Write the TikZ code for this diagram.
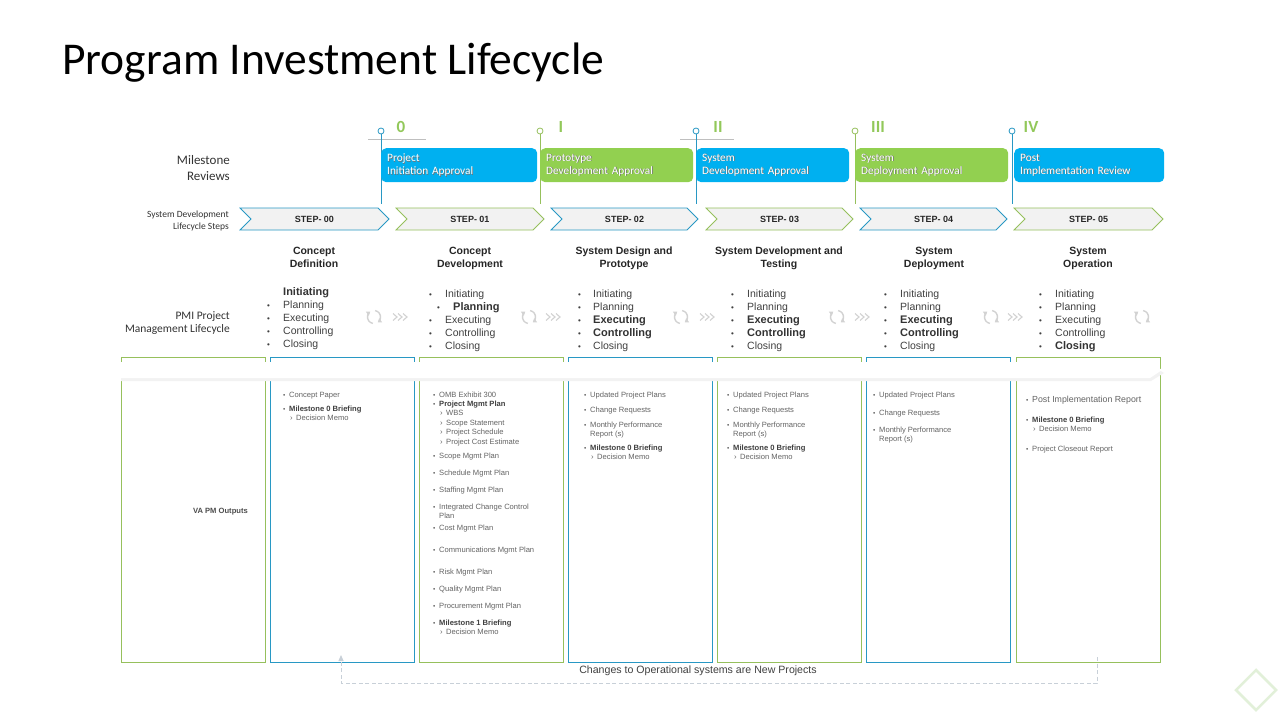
\documentclass[tikz,border=0pt]{standalone}
\usepackage{fontspec}
\setmainfont{Liberation Sans}
\newfontfamily\calib{Carlito}
\usetikzlibrary{arrows.meta,calc}
\definecolor{mblue}{RGB}{0,176,240}
\definecolor{mgreen}{RGB}{146,208,80}
\definecolor{lblue}{RGB}{40,152,196}
\definecolor{lgreen}{RGB}{150,192,92}
\definecolor{txt}{RGB}{64,64,64}
\definecolor{otxt}{RGB}{100,100,100}
\definecolor{chfill}{RGB}{242,242,242}
\definecolor{iconc}{RGB}{210,210,210}
\definecolor{dashc}{RGB}{200,208,216}
\definecolor{numg}{RGB}{146,200,90}
\definecolor{diac}{RGB}{226,240,217}
\newcommand\pbul{\makebox[16pt][l]{\fontsize{8}{8}\selectfont •}}
\newcommand\pbf[1]{{\fontsize{11}{13}\selectfont\bfseries\color{black!80}#1}}
\newcommand\obul{\makebox[6pt][l]{\fontsize{6.5}{6.5}\selectfont •}}
\newcommand\osub{\hspace{7pt}\makebox[6pt][l]{›}}
\newcommand\oind{\hspace{6pt}}
\newcommand\shd[1]{\makebox[0pt][l]{\hspace{0.7pt}\raisebox{-0.7pt}{\color{black!55}#1}}#1}
\begin{document}
\begin{tikzpicture}[x=1pt,y=-1pt,
  rowlab/.style={inner sep=0, text=black!80},
  phase/.style={inner sep=0, anchor=base, font=\fontsize{10.5}{13}\selectfont\bfseries, text=black!85},
  pmi/.style={inner sep=0, anchor=base west, font=\fontsize{10.5}{13}\selectfont, text=txt},
  outl/.style={inner sep=0, anchor=base west, font=\fontsize{7.6}{9.4}\selectfont, text=otxt},
  mbox/.style={rounded corners=5pt, anchor=north west, minimum height=34pt, inner xsep=6pt, align=left, text=white, font=\calib\fontsize{11.3}{13}\selectfont},
  steptxt/.style={inner sep=0, font=\bfseries\fontsize{9}{10}\selectfont, text=black!85},
  numlab/.style={inner sep=0, text=numg, font=\calib\bfseries\fontsize{17}{18}\selectfont},
  mcirc/.style={circle, fill=white, inner sep=0, minimum size=6pt, line width=0.8pt},
  colbox/.style={anchor=north west, minimum width=144pt, minimum height=305pt, inner sep=0, line width=0.9pt},
  iconline/.style={draw=iconc, line width=1.4pt},
  icontip/.style={-{Triangle[length=3.6pt,width=5pt]}},
  dashln/.style={draw=dashc, line width=0.8pt, dash pattern=on 4pt off 2.5pt},
]
\useasboundingbox (0,0) rectangle (1280,720);
\fill[white] (0,0) rectangle (1280,720);

% title
\node[anchor=base west, inner sep=0, font=\calib\fontsize{45.5}{50}\selectfont, text=black] (title) at (62,74) {Program Investment Lifecycle};

% row labels
\node[rowlab, anchor=base east, font=\calib\fontsize{13}{16}\selectfont] (lab1) at (230,164) {\begin{tabular}[t]{@{}r@{}}Milestone\\Reviews\end{tabular}};
\node[rowlab, anchor=base east, font=\calib\fontsize{9.5}{12}\selectfont] (lab2) at (229,217) {\begin{tabular}[t]{@{}r@{}}System Development\\Lifecycle Steps\end{tabular}};
\node[rowlab, anchor=base east, font=\calib\fontsize{11.5}{13}\selectfont] (lab3) at (230,319) {\begin{tabular}[t]{@{}r@{}}PMI Project\\Management Lifecycle\end{tabular}};
\node[rowlab, anchor=base east, font=\bfseries\fontsize{7.6}{9}\selectfont, text=black!70] (lab4) at (248,513) {VA PM Outputs};

% short grey rules
\draw[black!25, line width=0.6pt] (368,139) -- (426,139);
\draw[black!25, line width=0.6pt] (680,139) -- (734,139);

% milestone lines
\foreach \i/\x/\c in {0/381/lblue, 1/540/lgreen, 2/696/lblue, 3/855/lgreen, 4/1012/lblue} {
  \node[mcirc, draw=\c] (mc\i) at (\x,131) {};
  \coordinate (mb\i) at (\x,204);
  \draw[\c, line width=0.9pt] (mc\i) -- (mb\i);
}
\node[numlab] (n0) at (401,127) {0};
\node[numlab] (n1) at (561,127) {I};
\node[numlab] (n2) at (718,127) {II};
\node[numlab] (n3) at (878,127) {III};
\node[numlab] (n4) at (1031,127) {IV};

% milestone boxes
\node[mbox, fill=mblue, minimum width=156pt, text width=144pt] (ms0) at (381,148) {\shd{Project}\\\shd{Initiation Approval}};
\node[mbox, fill=mgreen, minimum width=153pt, text width=141pt] (ms1) at (540,148) {\shd{Prototype}\\\shd{Development Approval}};
\node[mbox, fill=mblue, minimum width=153pt, text width=141pt] (ms2) at (696,148) {\shd{System}\\\shd{Development Approval}};
\node[mbox, fill=mgreen, minimum width=153pt, text width=141pt] (ms3) at (855,148) {\shd{System}\\\shd{Deployment Approval}};
\node[mbox, fill=mblue, minimum width=150pt, text width=138pt] (ms4) at (1014,148) {\shd{Post}\\\shd{Implementation Review}};

% step chevrons
\foreach \i/\l/\r/\c in {0/240/389/lblue, 1/396/544/lgreen, 2/551/698/lblue, 3/706/853/lgreen, 4/860/1007/lblue, 5/1014/1163/lgreen} {
  \filldraw[fill=chfill, draw=\c, line width=0.8pt] (\l,208) -- ({\r-11},208) -- (\r,219) -- ({\r-11},230) -- (\l,230) -- ({\l+11},219) -- cycle;
  \node[steptxt] (s\i) at ({(\l+\r)/2},219.5) {STEP- 0\i};
}

% phase titles
\node[phase] (p0) at (314,254) {\begin{tabular}[t]{@{}c@{}}Concept\\Definition\end{tabular}};
\node[phase] (p1) at (470,254) {\begin{tabular}[t]{@{}c@{}}Concept\\Development\end{tabular}};
\node[phase] (p2) at (624,254) {\begin{tabular}[t]{@{}c@{}}System Design and\\Prototype\end{tabular}};
\node[phase] (p3) at (779,254) {\begin{tabular}[t]{@{}c@{}}System Development and\\Testing\end{tabular}};
\node[phase] (p4) at (934,254) {\begin{tabular}[t]{@{}c@{}}System\\Deployment\end{tabular}};
\node[phase] (p5) at (1088,254) {\begin{tabular}[t]{@{}c@{}}System\\Operation\end{tabular}};

% PMI lists
\node[pmi] (pl0) at (267,295) {\begin{tabular}[t]{@{}l@{}}
\hspace{16pt}\pbf{Initiating}\\ \pbul Planning\\ \pbul Executing\\ \pbul Controlling\\ \pbul Closing\end{tabular}};
\node[pmi] (pl1) at (429,297) {\begin{tabular}[t]{@{}l@{}}
\pbul Initiating\\ \hspace{8pt}\pbul\pbf{Planning}\\ \pbul Executing\\ \pbul Controlling\\ \pbul Closing\end{tabular}};
\node[pmi] (pl2) at (578,297) {\begin{tabular}[t]{@{}l@{}}
\makebox[15pt][l]{\fontsize{8}{8}\selectfont •}Initiating\\ \makebox[15pt][l]{\fontsize{8}{8}\selectfont •}Planning\\ \makebox[15pt][l]{\fontsize{8}{8}\selectfont •}\pbf{Executing}\\ \makebox[15pt][l]{\fontsize{8}{8}\selectfont •}\pbf{Controlling}\\ \makebox[15pt][l]{\fontsize{8}{8}\selectfont •}Closing\end{tabular}};
\node[pmi] (pl3) at (731,297) {\begin{tabular}[t]{@{}l@{}}
\pbul Initiating\\ \pbul Planning\\ \pbul\pbf{Executing}\\ \pbul\pbf{Controlling}\\ \pbul Closing\end{tabular}};
\node[pmi] (pl4) at (884,297) {\begin{tabular}[t]{@{}l@{}}
\pbul Initiating\\ \pbul Planning\\ \pbul\pbf{Executing}\\ \pbul\pbf{Controlling}\\ \pbul Closing\end{tabular}};
\node[pmi] (pl5) at (1039,297) {\begin{tabular}[t]{@{}l@{}}
\pbul Initiating\\ \pbul Planning\\ \pbul Executing\\ \pbul Controlling\\ \pbul\pbf{Closing}\end{tabular}};

% cycle icons
\foreach \i/\x in {0/374, 1/529, 2/681, 3/837, 4/991, 5/1142} {
  \coordinate (cy\i) at (\x,317);
  \draw[iconline, icontip] (cy\i) ++(100:6.5) arc (100:235:6.5);
  \draw[iconline, icontip] (cy\i) ++(280:6.5) arc (280:415:6.5);
}
\foreach \i/\x in {0/400, 1/553, 2/707, 3/862, 4/1015} {
  \coordinate (ch\i) at (\x,317);
  \foreach \d in {-5,0,5} {
    \draw[iconline, line width=1.1pt] ($(ch\i)+({\d-2},-3.5)$) -- ($(ch\i)+({\d+2},0)$) -- ($(ch\i)+({\d-2},3.5)$);
  }
}

% output columns
\node[colbox, draw=lgreen] (c0) at (121,357) {};
\node[colbox, draw=lblue] (c1) at (270,357) {};
\node[colbox, draw=lgreen] (c2) at (419,357) {};
\node[colbox, draw=lblue] (c3) at (568,357) {};
\node[colbox, draw=lgreen] (c4) at (717,357) {};
\node[colbox, draw=lblue] (c5) at (866,357) {};
\node[colbox, draw=lgreen] (c6) at (1016,357) {};

% white band arrow
\fill[black!5] (121,365) -- (1151,365) -- (1164,373) -- (1151,381) -- (121,381) -- cycle;
\fill[white] (121,362) -- (1150,362) -- (1162,370) -- (1150,378) -- (121,378) -- cycle;

% output lists
\node[outl] (o1) at (283,397) {\begin{tabular}[t]{@{}l@{}}
\obul Concept Paper\\[4.6pt]
\obul\textbf{\color{black!75}Milestone 0 Briefing}\\
\osub Decision Memo\end{tabular}};
\node[outl] (o2) at (433,397) {\begin{tabular}[t]{@{}l@{}}
\obul OMB Exhibit 300\\
\obul\textbf{\color{black!75}Project Mgmt Plan}\\
\osub WBS\\
\osub Scope Statement\\
\osub Project Schedule\\
\osub Project Cost Estimate\\[4.6pt]
\obul Scope Mgmt Plan\\[7.6pt]
\obul Schedule Mgmt Plan\\[7.6pt]
\obul Staffing Mgmt Plan\\[7.6pt]
\obul Integrated Change Control\\
\oind Plan\\[2.6pt]
\obul Cost Mgmt Plan\\[12.6pt]
\obul Communications Mgmt Plan\\[12.6pt]
\obul Risk Mgmt Plan\\[7.6pt]
\obul Quality Mgmt Plan\\[7.6pt]
\obul Procurement Mgmt Plan\\[7.6pt]
\obul\textbf{\color{black!75}Milestone 1 Briefing}\\
\osub Decision Memo\end{tabular}};
\node[outl] (o3) at (584,397) {\begin{tabular}[t]{@{}l@{}}
\obul Updated Project Plans\\[5.6pt]
\obul Change Requests\\[5.6pt]
\obul Monthly Performance\\
\oind Report (s)\\[4.6pt]
\obul\textbf{\color{black!75}Milestone 0 Briefing}\\
\osub Decision Memo\end{tabular}};
\node[outl] (o4) at (727,397) {\begin{tabular}[t]{@{}l@{}}
\obul Updated Project Plans\\[5.6pt]
\obul Change Requests\\[5.6pt]
\obul Monthly Performance\\
\oind Report (s)\\[4.6pt]
\obul\textbf{\color{black!75}Milestone 0 Briefing}\\
\osub Decision Memo\end{tabular}};
\node[outl] (o5) at (873,397) {\begin{tabular}[t]{@{}l@{}}
\obul Updated Project Plans\\[8.6pt]
\obul Change Requests\\[7.6pt]
\obul Monthly Performance\\
\oind Report (s)\end{tabular}};
\node[outl] (o6) at (1026,402) {\begin{tabular}[t]{@{}l@{}}
\obul{\fontsize{8.8}{9.4}\selectfont Post Implementation Report}\\[10.6pt]
\obul\textbf{\color{black!75}Milestone 0 Briefing}\\
\osub Decision Memo\\[10.6pt]
\obul Project Closeout Report\end{tabular}};

% bottom loop
\node[inner sep=0, font=\fontsize{10.6}{12}\selectfont, text=txt] (note) at (698,671) {Changes to Operational systems are New Projects};
\coordinate (lpA) at (1097,657);
\coordinate (lpC) at (341,683);
\coordinate (lpB) at (341,655);
\draw[dashln, -{Triangle[length=6pt,width=5pt]}] (lpA) |- (lpC) -- (lpB);

% decoration
\draw[diac, line width=2.5pt] (1256,670) -- (1276,690) -- (1256,710) -- (1236,690) -- cycle;
\end{tikzpicture}
\end{document}
